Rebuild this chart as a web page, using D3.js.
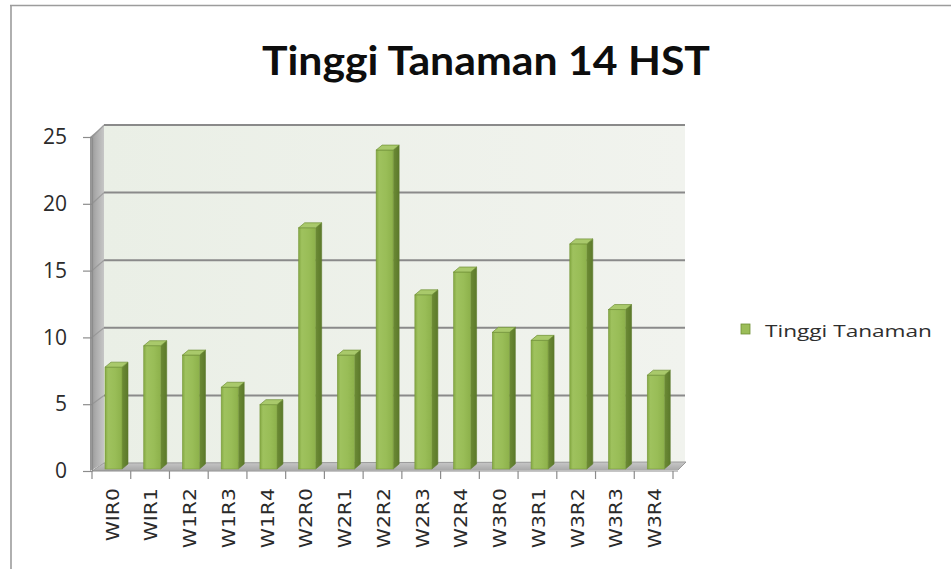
<!DOCTYPE html>
<html>
<head>
<meta charset="utf-8">
<script src="https://cdn.jsdelivr.net/npm/d3@7"></script>
<style>
  html, body { margin: 0; padding: 0; background: #ffffff; }
  svg { display: block; }
</style>
</head>
<body>
<svg id="chart" width="951" height="569"></svg>
<script>
// ---- data ----
const chartTitle = "Tinggi Tanaman 14 HST";
const seriesName = "Tinggi Tanaman";
const categories = ["WIR0", "WIR1", "W1R2", "W1R3", "W1R4",
                    "W2R0", "W2R1", "W2R2", "W2R3", "W2R4",
                    "W3R0", "W3R1", "W3R2", "W3R3", "W3R4"];
const heights = [7.6, 9.2, 8.5, 6.1, 4.8,
                 18.0, 8.5, 23.8, 13.0, 14.7,
                 10.2, 9.6, 16.8, 11.9, 7.0];
const yTickValues = [0, 5, 10, 15, 20, 25];

// ---- layout ----
const svg = d3.select("#chart");
const depth = { dx: 12, dy: -8 };      // front plane -> back wall
const barDepth = { dx: 6, dy: -5 };    // thickness of each column
const barInset = 13, barWidth = 17;

const x = d3.scaleBand().domain(categories).range([92, 673]);
const yFront = d3.scaleLinear().domain([0, 25]).range([471, 137]);
const yBack = d3.scaleLinear().domain([0, 25]).range([463, 125]);
const yBar = d3.scaleLinear().domain([0, 25]).range([469, 134]);

const x0 = x.range()[0], x1 = x.range()[1];

// ---- gradients ----
const defs = svg.append("defs");
function hGrad(id, stops) {
  const g = defs.append("linearGradient").attr("id", id)
    .attr("x1", "0%").attr("x2", "100%").attr("y1", "0%").attr("y2", "0%");
  stops.forEach(([o, c]) => g.append("stop").attr("offset", o).attr("stop-color", c));
}
function vGrad(id, stops) {
  const g = defs.append("linearGradient").attr("id", id)
    .attr("x1", "0%").attr("x2", "0%").attr("y1", "0%").attr("y2", "100%");
  stops.forEach(([o, c]) => g.append("stop").attr("offset", o).attr("stop-color", c));
}
hGrad("barFront", [["0%", "#84a843"], ["18%", "#9fc25e"], ["60%", "#99bd57"], ["100%", "#8db14b"]]);
hGrad("barSide", [["0%", "#6c8b35"], ["100%", "#5c792b"]]);
hGrad("sideWall", [["0%", "#949494"], ["45%", "#adadad"], ["100%", "#c6c6c6"]]);
vGrad("floor", [["0%", "#c8c8c8"], ["100%", "#a6a6a6"]]);
hGrad("backWall", [["0%", "#eaefe6"], ["100%", "#f1f3ee"]]);

// ---- outer frame ----
svg.append("line").attr("x1", 10).attr("x2", 951).attr("y1", 5.5).attr("y2", 5.5)
  .attr("stroke", "#9c9c9c").attr("stroke-width", 1.6);
svg.append("line").attr("x1", 11).attr("x2", 11).attr("y1", 5).attr("y2", 569)
  .attr("stroke", "#9c9c9c").attr("stroke-width", 1.6);

// ---- title ----
svg.append("text")
  .attr("x", 486).attr("y", 75)
  .attr("text-anchor", "middle")
  .attr("font-family", "Lato, 'Open Sans', sans-serif")
  .attr("font-weight", 700)
  .attr("font-size", 40)
  .attr("textLength", 448).attr("lengthAdjust", "spacingAndGlyphs")
  .attr("fill", "#0d0d0d")
  .text(chartTitle);

// ---- walls ----
const plot = svg.append("g");
// back wall
plot.append("rect")
  .attr("x", x0 + depth.dx).attr("y", yBack(25))
  .attr("width", x1 - x0).attr("height", yBack(0) - yBack(25))
  .attr("fill", "url(#backWall)");
// left side wall
plot.append("path")
  .attr("d", d3.line()([[x0 - 2, yFront(25)], [x0 + depth.dx, yBack(25)],
                        [x0 + depth.dx, yBack(0)], [x0 - 2, yFront(0)]]))
  .attr("fill", "url(#sideWall)");
// floor
plot.append("path")
  .attr("d", d3.line()([[x0, yFront(0)], [x0 + depth.dx, yBack(0)],
                        [x1 + depth.dx + 1, yBack(0) - 1], [x1 + 5, yFront(0) - 1]]))
  .attr("fill", "url(#floor)").attr("stroke", "#9a9a9a").attr("stroke-width", 1);

// gridlines on back wall and side wall
plot.selectAll("line.grid").data(yTickValues.filter(v => v > 0)).join("line")
  .attr("class", "grid")
  .attr("x1", x0 + depth.dx).attr("x2", x1 + depth.dx)
  .attr("y1", d => yBack(d)).attr("y2", d => yBack(d))
  .attr("stroke", "#8a8a8a").attr("stroke-width", 2);
plot.selectAll("line.sideGrid").data(yTickValues.filter(v => v > 0)).join("line")
  .attr("class", "sideGrid")
  .attr("x1", x0).attr("x2", x0 + depth.dx)
  .attr("y1", d => yFront(d)).attr("y2", d => yBack(d))
  .attr("stroke", "#8f8f8f").attr("stroke-width", 1.2).attr("opacity", 0.7);

// ---- columns ----
const bars = plot.selectAll("g.bar").data(categories.map((c, i) => ({ c, v: heights[i] })))
  .join("g").attr("class", "bar");

bars.each(function (d) {
  const g = d3.select(this);
  const bx = x(d.c) + barInset;
  const ty = yBar(d.v), by = yBar(0);
  const bw = barWidth, sx = barDepth.dx, sy = barDepth.dy;
  // side face
  g.append("path")
    .attr("d", d3.line()([[bx + bw, ty], [bx + bw + sx, ty + sy], [bx + bw + sx, by + sy], [bx + bw, by]]))
    .attr("fill", "url(#barSide)").attr("stroke", "#5c7a2b").attr("stroke-width", 0.6);
  // front face
  g.append("rect")
    .attr("x", bx).attr("y", ty).attr("width", bw).attr("height", by - ty)
    .attr("fill", "url(#barFront)").attr("stroke", "#78993a").attr("stroke-width", 0.6);
  // top cap
  g.append("path")
    .attr("d", d3.line()([[bx, ty], [bx + bw, ty], [bx + bw + sx, ty + sy], [bx + sx, ty + sy]]) + "Z")
    .attr("fill", "#a9c96b").attr("stroke", "#6e8f35").attr("stroke-width", 0.7);
});

// ---- value axis ----
const yAxis = svg.append("g")
  .attr("transform", `translate(${x0},0)`)
  .call(d3.axisLeft(yFront).tickValues(yTickValues).tickSizeInner(9).tickSizeOuter(0).tickPadding(16));
yAxis.select(".domain").attr("stroke", "#8c8c8c").attr("stroke-width", 1.2);
yAxis.selectAll(".tick line").attr("stroke", "#8c8c8c").attr("stroke-width", 1.2);
yAxis.selectAll(".tick text")
  .attr("font-family", "'Open Sans', sans-serif")
  .attr("font-size", 21)
  .attr("fill", "#2b2b2b");

// ---- category axis ----
const xAxis = svg.append("g");
xAxis.append("line")
  .attr("x1", x0).attr("x2", x1 + 5)
  .attr("y1", yFront(0)).attr("y2", yFront(0))
  .attr("stroke", "#8c8c8c").attr("stroke-width", 1.2);
const boundaries = categories.map(c => x(c)).concat([x1]);
xAxis.selectAll("line.tick").data(boundaries).join("line")
  .attr("class", "tick")
  .attr("x1", d => d).attr("x2", d => d)
  .attr("y1", yFront(0)).attr("y2", yFront(0) + 8)
  .attr("stroke", "#8c8c8c").attr("stroke-width", 1.2);
xAxis.selectAll("text").data(categories).join("text")
  .attr("transform", d => `translate(${x(d) + x.bandwidth() / 2 + 1.5},488) rotate(-90) scale(1.2,1)`)
  .attr("text-anchor", "end")
  .attr("dominant-baseline", "central")
  .attr("font-family", "'DejaVu Sans', sans-serif")
  .attr("font-size", 17)
  .attr("fill", "#2a2a2a")
  .text(d => d);

// ---- legend ----
const legend = svg.append("g");
legend.append("rect")
  .attr("x", 741).attr("y", 324).attr("width", 9).attr("height", 10)
  .attr("fill", "#9bbd58").attr("stroke", "#6e8f35").attr("stroke-width", 0.8);
legend.append("text")
  .attr("x", 765).attr("y", 330)
  .attr("dominant-baseline", "central")
  .attr("font-family", "'Open Sans', sans-serif")
  .attr("font-size", 17)
  .attr("textLength", 167).attr("lengthAdjust", "spacingAndGlyphs")
  .attr("fill", "#2e2e2e")
  .text(seriesName);
</script>
</body>
</html>
